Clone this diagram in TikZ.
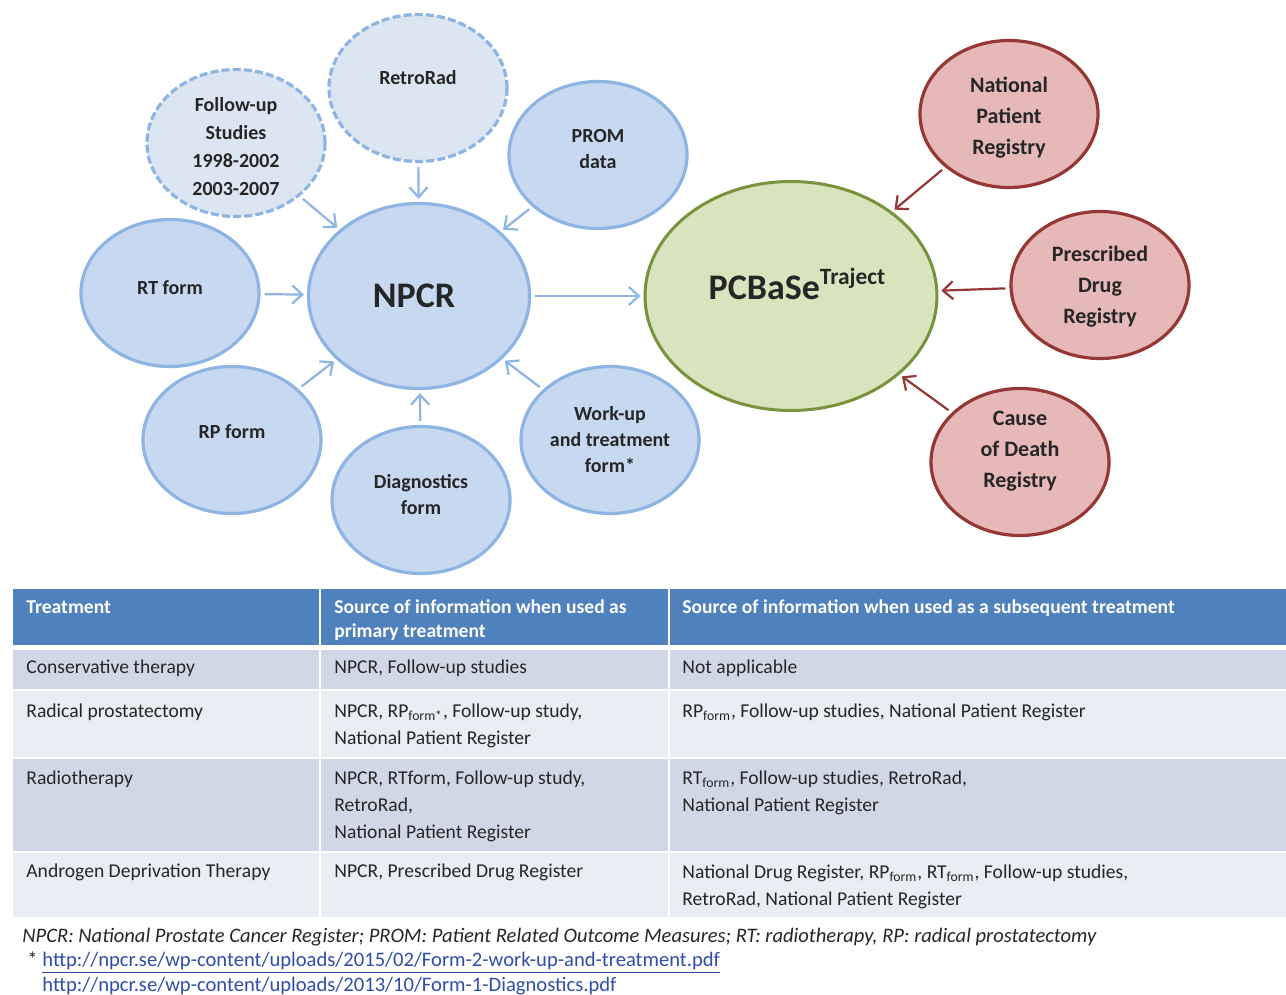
\documentclass[tikz,border=0pt]{standalone}
\usepackage{fontspec}
\setmainfont{Carlito}
\usetikzlibrary{shapes.geometric,arrows.meta}

\definecolor{srcfill}{RGB}{198,217,241}
\definecolor{oldfill}{RGB}{220,230,242}
\definecolor{srcline}{RGB}{141,180,226}
\definecolor{trajfill}{RGB}{215,228,189}
\definecolor{trajline}{RGB}{119,147,60}
\definecolor{regfill}{RGB}{230,185,184}
\definecolor{regline}{RGB}{149,55,53}
\definecolor{headfill}{RGB}{79,129,189}
\definecolor{rowdark}{RGB}{208,216,232}
\definecolor{rowlight}{RGB}{233,237,244}
\definecolor{linkblue}{RGB}{46,78,170}

\tikzstyle{src} = [ellipse, draw=srcline, fill=srcfill, line width=1.6pt, minimum width=89pt, minimum height=73.5pt, inner sep=0pt]
\tikzstyle{oldsrc} = [src, fill=oldfill, dash pattern=on 4pt off 1.6pt]
\tikzstyle{reg} = [ellipse, draw=regline, fill=regfill, line width=1.6pt, minimum width=89pt, minimum height=73.5pt, inner sep=0pt]
\tikzstyle{txt} = [font=\fontsize{10}{13}\selectfont\bfseries, align=center, text=black!85]
\tikzstyle{regtxt} = [txt, font=\fontsize{11}{15.5}\selectfont\bfseries]
\tikzstyle{feed} = [draw=srcline, line width=1.1pt, -{Straight Barb[length=5pt,width=9pt]}, shorten <=2pt, shorten >=1.5pt]
\tikzstyle{regfeed} = [feed, draw=regline]
\tikzstyle{cell} = [anchor=base west, align=left, inner sep=0pt, text=black!85, font=\fontsize{9.8}{13.5}\selectfont]
\tikzstyle{headcell} = [cell, text=white, font=\fontsize{9.8}{12}\selectfont\bfseries]
\tikzstyle{notecell} = [cell, font=\fontsize{10.3}{12}\selectfont]

\begin{document}
\begin{tikzpicture}[x=0.5pt, y=-0.5pt]
  \useasboundingbox (0,0) rectangle (1286,995);

  % sources around NPCR
  \node[oldsrc, label={[txt,yshift=-2pt,font=\fontsize{10}{14}\selectfont\bfseries]center:{Follow-up\\Studies\\1998-2002\\2003-2007}}] (fup) at (236,143) {};
  \node[oldsrc, label={[txt,yshift=5pt]center:RetroRad}] (retro) at (418,88) {};
  \node[src, label={[txt,yshift=3pt]center:{PROM\\data}}] (prom) at (598,155) {};
  \node[src, label={[txt,yshift=2.5pt]center:RT form}] (rtf) at (170,293) {};
  \node[src, label={[txt,yshift=4pt]center:RP form}] (rpf) at (232,440) {};
  \node[src, label={[txt,yshift=2.5pt]center:{Diagnostics\\form}}] (diag) at (421,500) {};
  \node[src, label={[txt]center:{Work-up\\and treatment\\form*}}] (work) at (610,440) {};
  \node[src, minimum width=110.5pt, minimum height=92.5pt,
        label={[txt, font=\fontsize{18}{20}\selectfont\bfseries, xshift=-2.5pt]center:NPCR}] (npcr) at (419,296) {};

  % registries
  \node[ellipse, draw=trajline, fill=trajfill, line width=1.5pt, minimum width=146pt, minimum height=114.5pt,
        label={[txt, font=\fontsize{18}{20}\selectfont\bfseries, xshift=3pt, yshift=6pt]center:PCBaSe\raisebox{7.5pt}{\fontsize{11.7}{12}\selectfont Traject}}] (pcb) at (791,296) {};
  \node[reg, label={[regtxt,yshift=-2pt]center:{National\\Patient\\Registry}}] (npr) at (1009,114) {};
  \node[reg, label={[regtxt,yshift=-1pt]center:{Prescribed\\Drug\\Registry}}] (pdr) at (1100,285) {};
  \node[reg, label={[regtxt,yshift=5.5pt]center:{Cause\\of Death\\Registry}}] (cdr) at (1020,462) {};

  \draw[feed] (fup) -- (npcr);
  \draw[feed] (retro) -- (npcr);
  \draw[feed] (prom) -- (npcr);
  \draw[feed] (rtf) -- (npcr);
  \draw[feed] (rpf) -- (npcr);
  \draw[feed] (diag) -- (npcr);
  \draw[feed] (work) -- (npcr);
  \draw[feed] (npcr) -- (pcb);
  \draw[regfeed] (npr) -- (pcb);
  \draw[regfeed] (pdr) -- (pcb);
  \draw[regfeed] (cdr) -- (pcb);

  % table
  \fill[headfill] (13,589) rectangle (1286,645);
  \fill[rowdark] (13,650) rectangle (1286,689);
  \fill[rowlight] (13,691) rectangle (1286,757);
  \fill[rowdark] (13,759) rectangle (1286,851);
  \fill[rowlight] (13,853) rectangle (1286,917);
  \draw[white, line width=1.2pt] (320,589) -- (320,917) (669,589) -- (669,917);

  % multi-line cells sit on the baseline of their last line
  \node[headcell] (h1) at (26,613) {Treatment};
  \node[headcell] (h2) at (334,637) {Source of information when used as\\primary treatment};
  \node[headcell] (h3) at (682,613) {Source of information when used as a subsequent treatment};

  \node[cell] (t1) at (26,673) {Conservative therapy};
  \node[cell] (p1) at (334,673) {NPCR, Follow-up studies};
  \node[cell] (s1) at (682,673) {Not applicable};

  \node[cell] (t2) at (26,717) {Radical prostatectomy};
  \node[cell] (p2) at (334,744) {NPCR, RP\textsubscript{form*}, Follow-up study,\\National Patient Register};
  \node[cell] (s2) at (682,717) {RP\textsubscript{form}, Follow-up studies, National Patient Register};

  \node[cell] (t3) at (26,784) {Radiotherapy};
  \node[cell] (p3) at (334,838) {NPCR, RTform, Follow-up study,\\RetroRad,\\National Patient Register};
  \node[cell] (s3) at (682,811) {RT\textsubscript{form}, Follow-up studies, RetroRad,\\National Patient Register};

  \node[cell] (t4) at (26,877) {Androgen Deprivation Therapy};
  \node[cell] (p4) at (334,877) {NPCR, Prescribed Drug Register};
  \node[cell] (s4) at (682,905) {National Drug Register, RP\textsubscript{form}, RT\textsubscript{form}, Follow-up studies,\\RetroRad, National Patient Register};

  % notes
  \node[notecell, font=\fontsize{10.3}{12}\selectfont\itshape] (note) at (22,942) {NPCR: National Prostate Cancer Register; PROM: Patient Related Outcome Measures; RT: radiotherapy, RP: radical prostatectomy};
  \node[notecell] (star) at (27,966) {*};
  \node[notecell, text=linkblue] (link1) at (42,966) {\underline{http://npcr.se/wp-content/uploads/2015/02/Form-2-work-up-and-treatment.pdf}};
  \node[notecell, text=linkblue] (link2) at (42,991) {\underline{http://npcr.se/wp-content/uploads/2013/10/Form-1-Diagnostics.pdf}};
\end{tikzpicture}
\end{document}
